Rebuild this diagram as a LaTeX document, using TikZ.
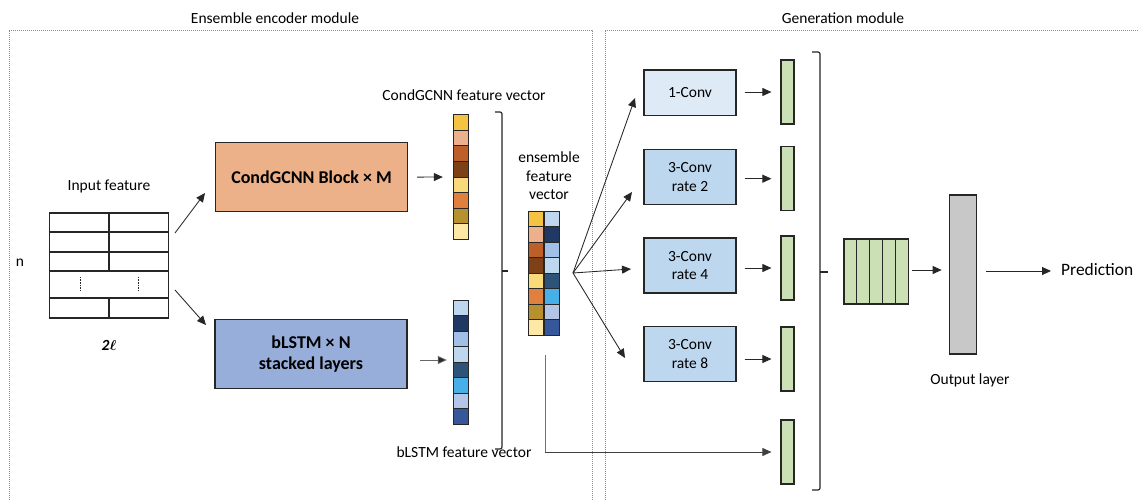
\documentclass[tikz,border=0pt]{standalone}
\usepackage{fontspec}
\setmainfont{Carlito}
\usepackage{amsmath}
\usetikzlibrary{arrows.meta,calc}

% cell colours of the feature vectors
\definecolor{oA}{HTML}{F5C342}
\definecolor{oB}{HTML}{ECB08C}
\definecolor{oC}{HTML}{BE5E28}
\definecolor{oD}{HTML}{7E4016}
\definecolor{oE}{HTML}{F9DA7A}
\definecolor{oF}{HTML}{E0803F}
\definecolor{oG}{HTML}{B7912E}
\definecolor{oH}{HTML}{FDE8A6}
\definecolor{bA}{HTML}{BED6EE}
\definecolor{bB}{HTML}{203864}
\definecolor{bC}{HTML}{A1C0E7}
\definecolor{bD}{HTML}{BDD7EE}
\definecolor{bE}{HTML}{2D5379}
\definecolor{bF}{HTML}{47B0E8}
\definecolor{bG}{HTML}{B4C6E7}
\definecolor{bH}{HTML}{36579A}
% block colours
\definecolor{gcnnfill}{HTML}{EDB18A}
\definecolor{lstmfill}{HTML}{98AEDA}
\definecolor{onefill}{HTML}{DEEBF7}
\definecolor{convfill}{HTML}{BDD7EE}
\definecolor{barfill}{HTML}{CCE0B6}
\definecolor{outfill}{HTML}{C8C8C8}
\definecolor{edge}{HTML}{262626}

\begin{document}
\begin{tikzpicture}[x=1pt,y=-1pt,
  lbl/.style={font=\fontsize{15.5}{18.5}\selectfont, inner sep=0pt, align=center},
  blk/.style={draw=edge, line width=1.3pt, inner sep=0pt, align=center,
              minimum width=192pt, minimum height=69pt,
              font=\fontsize{18}{21.5}\selectfont\bfseries},
  conv/.style={draw=edge, line width=1.2pt, minimum width=92pt, minimum height=55pt,
               inner sep=0pt, align=center, fill=convfill,
               font=\fontsize{15.5}{18.7}\selectfont},
  bar/.style={draw=edge, line width=1.2pt, fill=barfill, minimum width=13pt,
              minimum height=64pt, inner sep=0pt},
  cell/.style={draw=edge, line width=1pt, minimum width=15.8pt, minimum height=15.5pt, inner sep=0pt},
  holder/.style={minimum width=16pt, minimum height=124pt, inner sep=0pt},
  arr/.style={-{Triangle[length=9pt,width=8pt]}, line width=0.85pt, draw=edge},
  brk/.style={line width=1.2pt, draw=edge, rounded corners=2pt},
  frame/.style={draw=black!45, line width=0.6pt, dash pattern=on 1pt off 1pt},
]
\useasboundingbox (0,0) rectangle (1138,500);
\clip (0,0) rectangle (1138,500);
\fill[white] (0,0) rectangle (1138,500);

% module frames
\draw[frame] (9,520) -- (9,30) -- (592,30) -- (592,520);
\draw[frame] (605,520) -- (605,30) -- (1150,30);
\node[lbl] (encTitle) at (275,18) {Ensemble encoder module};
\node[lbl] (genTitle) at (843,18) {Generation module};

% input feature table
\node[lbl] (inLbl) at (109,186) {Input feature};
\node[draw=edge, line width=1.3pt, minimum width=119.5pt, minimum height=105pt, inner sep=0pt]
  (tbl) at (109,265.5) {};
\foreach \r in {232,252,271,298}
  \draw[edge, line width=1.3pt] (tbl.west |- 0,\r) -- (tbl.east |- 0,\r);
\draw[edge, line width=1.3pt] (tbl.north) -- (109,271);
\draw[edge, line width=1.3pt] (109,298) -- (tbl.south);
\draw[edge, line width=0.8pt, dash pattern=on 0.8pt off 0.8pt] (80,277) -- (80,290);
\draw[edge, line width=0.8pt, dash pattern=on 0.8pt off 0.8pt] (138,277) -- (138,290);
\node[lbl] (nLbl) at (20,263) {n};
\node[lbl] (lLbl) at (109,345) {\textbf{\textit{2}}$\boldsymbol{\ell}$};

% encoder blocks
\node[blk, fill=gcnnfill] (gcnn) at (311.5,177.3) {CondGCNN Block × M};
\node[blk, fill=lstmfill] (lstm) at (311,354) {bLSTM × N\\stacked layers};

\coordinate (tUp) at (175,233);
\coordinate (tDn) at (175,290);
\coordinate (hUp) at (205,193);
\coordinate (hDn) at (206,325);
\draw[arr] (tUp) -- (hUp);
\draw[arr] (tDn) -- (hDn);

% CondGCNN feature vector
\node[lbl] (gvecLbl) at (464,95) {CondGCNN feature vector};
\node[holder] (gvec) at (461,177) {};
\foreach \c [count=\i] in {oA,oB,oC,oD,oE,oF,oG,oH}
  \node[cell, fill=\c] (g\i) at (461,107.25+15.5*\i) {};

% bLSTM feature vector
\node[lbl] (bvecLbl) at (464,452) {bLSTM feature vector};
\node[holder] (bvec) at (461,362) {};
\foreach \c [count=\i] in {bA,bB,bC,bD,bE,bF,bG,bH}
  \node[cell, fill=\c] (b\i) at (461,292.25+15.5*\i) {};

\draw[arr, shorten <=9pt, shorten >=10pt] (gcnn) -- (gvec);
\draw[arr, draw=black!60, -{Triangle[length=9pt,width=8pt,fill=edge]}]
  ([xshift=12pt,yshift=-6pt]lstm.east) -- ([xshift=-6pt,yshift=2pt]bvec.west);

% joining bracket
\draw[brk] (495,112) -- (502,112) -- (502,449) -- (495,449);
\draw[edge, line width=1.2pt] (502,271) -- (508,271);

% ensemble feature vector
\node[lbl] (evecLbl) at (549,176) {ensemble\\feature\\vector};
\node[minimum width=32pt, minimum height=124pt, inner sep=0pt] (evec) at (544,273) {};
\foreach \c [count=\i] in {oA,oB,oC,oD,oE,oF,oG,oH}
  \node[cell, fill=\c] (eo\i) at (536,203.25+15.5*\i) {};
\foreach \c [count=\i] in {bA,bB,bC,bD,bE,bF,bG,bH}
  \node[cell, fill=\c] (eb\i) at (552,203.25+15.5*\i) {};

% convolution branches
\node[conv, fill=onefill, minimum height=45.5pt] (c1) at (690,92.7) {1-Conv};
\node[conv] (c2) at (690,176.7) {3-Conv\\rate 2};
\node[conv] (c3) at (690,265.5) {3-Conv\\rate 4};
\node[conv] (c4) at (690,354.2) {3-Conv\\rate 8};

\coordinate (fan) at (573,273);
\coordinate (f1) at (635,98);
\coordinate (f2) at (632,192);
\coordinate (f3) at (631,269);
\coordinate (f4) at (625,358);
\foreach \k in {1,2,3,4}
  \draw[arr] (fan) -- (f\k);

% branch outputs
\node[bar] (v1) at (787.5,92) {};
\node[bar] (v2) at (787.5,178.7) {};
\node[bar] (v3) at (787.5,268) {};
\node[bar] (v4) at (787.5,359) {};
\node[bar] (v5) at (787.5,452) {};
\foreach \k in {1,2,3,4}
  \draw[arr, shorten <=8pt, shorten >=9pt] (c\k.east |- v\k.west) -- (v\k.west);

% skip connection from the ensemble vector
\coordinate (skip) at (545,355);
\draw[black!55, line width=0.9pt] (skip) -- (545,452);
\draw[arr, draw=black!75, shorten >=9pt] (545,452) -- (v5.west);

% concatenation bracket
\draw[brk] (812,52) -- (820,52) -- (820,490) -- (812,490);
\draw[edge, line width=1.2pt] (820,272) -- (828,272);

% concatenated features
\node[minimum width=64.5pt, minimum height=65pt, inner sep=0pt] (cat) at (876,271.5) {};
\foreach \i in {0,...,4}
  \node[draw=edge, line width=1.1pt, fill=barfill, minimum width=12.9pt, minimum height=65pt, inner sep=0pt]
    (cat\i) at (850.45+12.9*\i,271.5) {};

% output layer
\node[draw=edge, line width=1.2pt, fill=outfill, minimum width=27.5pt, minimum height=159pt, inner sep=0pt]
  (out) at (963,274.5) {};
\node[lbl] (outLbl) at (970,380) {Output layer};
\node[font=\fontsize{17.4}{20}\selectfont, inner sep=0pt, anchor=west] (pred) at (1061,270) {Prediction};

\draw[arr, shorten <=4pt, shorten >=7pt] (cat.east |- 0,270) -- (out.west |- 0,270);
\draw[arr, shorten <=9pt, shorten >=10pt] (out.east |- 0,271) -- (pred.west |- 0,271);
\end{tikzpicture}
\end{document}
